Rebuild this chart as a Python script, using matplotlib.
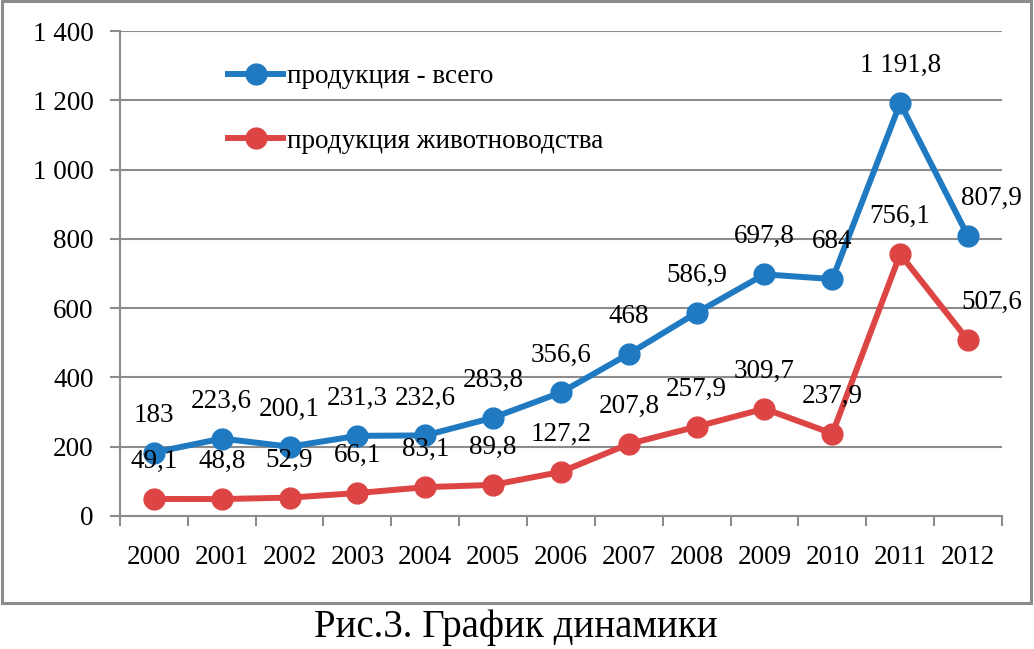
import matplotlib
matplotlib.use("Agg")
import matplotlib.pyplot as plt
from matplotlib.patches import Rectangle

plt.rcParams["font.family"] = ["Liberation Serif", "DejaVu Serif"]

years = ["2000", "2001", "2002", "2003", "2004", "2005", "2006",
         "2007", "2008", "2009", "2010", "2011", "2012"]
total = [183, 223.6, 200.1, 231.3, 232.6, 283.8, 356.6,
         468, 586.9, 697.8, 684, 1191.8, 807.9]
livestock = [49.1, 48.8, 52.9, 66.1, 83.1, 89.8, 127.2,
             207.8, 257.9, 309.7, 237.9, 756.1, 507.6]
y_ticks = [0, 200, 400, 600, 800, 1000, 1200, 1400]

BLUE = "#1F7AC2"
RED = "#DD4545"
GRID = "#8C8C8C"
FS = 19.5


def fmt(v):
    """Russian style: space for thousands, comma for decimals."""
    if float(v).is_integer():
        s = f"{int(v):,}".replace(",", " ")
    else:
        s = f"{v:,.1f}".replace(",", " ").replace(".", ",")
    return s


fig = plt.figure(figsize=(10.34, 6.49), dpi=100)
ax = fig.add_axes([0.116, 0.205, 0.853, 0.747])

x = range(len(years))
ax.plot(x, total, color=BLUE, lw=4.3, marker="o", ms=15, label="продукция - всего", zorder=3)
ax.plot(x, livestock, color=RED, lw=4.3, marker="o", ms=15, label="продукция животноводства", zorder=3)

# last point labels sit a bit to the right in the original
dx_last = 17
for series in (total, livestock):
    for i, v in enumerate(series):
        dx = dx_last if i == len(series) - 1 else 0
        ax.annotate(fmt(v), (i, v), xytext=(dx, 27), textcoords="offset points",
                    ha="center", va="center", fontsize=FS, zorder=4)

ax.set_xlim(-0.5, len(years) - 0.5)
ax.set_ylim(0, 1400)
ax.set_yticks(y_ticks)
ax.set_yticklabels([fmt(t) for t in y_ticks], fontsize=FS)
ax.set_xticks([i + 0.5 for i in range(-1, len(years))], minor=False)
ax.set_xticklabels([])
ax.set_xticks(list(x), minor=True)
ax.set_xticklabels(years, minor=True, fontsize=FS)
ax.tick_params(axis="x", which="minor", length=0, pad=21)
ax.tick_params(axis="x", which="major", length=7, width=1.5, color=GRID, direction="out")
ax.tick_params(axis="y", length=7, width=1.5, color=GRID, direction="out", pad=12)

ax.grid(True, axis="y", color=GRID, lw=1.5)
ax.set_axisbelow(True)
for side in ("top", "right"):
    ax.spines[side].set_visible(False)
for side in ("left", "bottom"):
    ax.spines[side].set_color(GRID)
    ax.spines[side].set_linewidth(1.5)

ax.legend(loc="upper left", bbox_to_anchor=(0.123, 0.932), frameon=False, fontsize=FS,
          handlelength=2.0, handletextpad=0.15, labelspacing=1.46, borderpad=0, borderaxespad=0)

# outer frame of the chart block
fig.patches.append(Rectangle((0.0015, 1 - 603 / 649), 0.996, 603 / 649 - 0.002,
                             transform=fig.transFigure, fill=False, ec=GRID, lw=2.2))

fig.text(0.499, 1 - 628 / 649, "Рис.3. График динамики", ha="center", va="center", fontsize=28)

fig.savefig("out.png", dpi=100)
